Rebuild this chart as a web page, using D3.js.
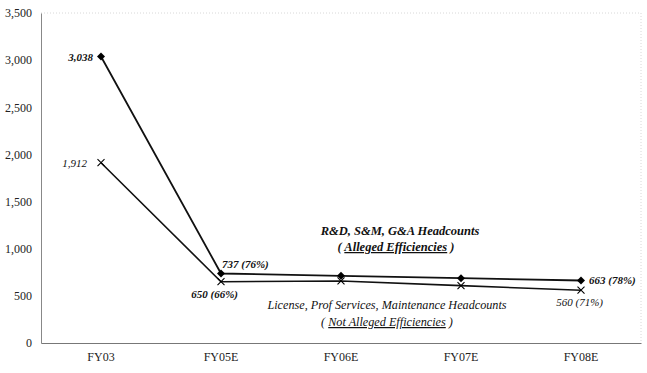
<!DOCTYPE html>
<html>
<head>
<meta charset="utf-8">
<script src="https://cdn.jsdelivr.net/npm/d3@7"></script>
<style>
  body { margin: 0; background: #fff; }
</style>
</head>
<body>
<script>
// chart data
var years = ["FY03", "FY05E", "FY06E", "FY07E", "FY08E"];
var alleged = [3038, 737, 712, 688, 663];
var notAlleged = [1912, 650, 658, 608, 560];
var yTicks = [0, 500, 1000, 1500, 2000, 2500, 3000, 3500];

var serif = "'Liberation Serif', 'Times New Roman', serif";
var width = 647, height = 373;
var margin = { top: 13, right: 6, bottom: 30, left: 41 };

var svg = d3.select("body").append("svg")
    .attr("width", width)
    .attr("height", height)
    .style("font-family", serif);

var x = d3.scaleBand().domain(years).range([margin.left, width - margin.right]);
var y = d3.scaleLinear().domain([0, 3500]).range([height - margin.bottom, margin.top]);

function cx(i) { return x(years[i]) + x.bandwidth() / 2; }

// faint plot border (top/right)
svg.append("path")
    .attr("d", "M" + margin.left + "," + margin.top + "H" + (width - margin.right) + "V" + (height - margin.bottom))
    .attr("fill", "none")
    .attr("stroke", "#d8d8d8")
    .attr("stroke-dasharray", "1,2");

// y axis
var yAxis = svg.append("g")
    .attr("transform", "translate(" + margin.left + ",0)")
    .call(d3.axisLeft(y).tickValues(yTicks).tickSize(0).tickPadding(9).tickFormat(d3.format(",")));
yAxis.attr("font-family", null);
yAxis.select(".domain").attr("stroke", "#888");
yAxis.selectAll("text").style("font-family", serif).style("font-size", "12px").attr("fill", "#222");

// x axis
var xAxis = svg.append("g")
    .attr("transform", "translate(0," + (height - margin.bottom) + ")")
    .call(d3.axisBottom(x).tickSize(0).tickPadding(9));
xAxis.attr("font-family", null);
xAxis.select(".domain").attr("stroke", "#777");
xAxis.selectAll("text").style("font-family", serif).style("font-size", "12px").attr("fill", "#222");

var line = d3.line()
    .x(function (d, i) { return cx(i); })
    .y(function (d) { return y(d); });

svg.append("path").datum(notAlleged)
    .attr("d", line).attr("fill", "none").attr("stroke", "#111").attr("stroke-width", 1.6);
svg.append("path").datum(alleged)
    .attr("d", line).attr("fill", "none").attr("stroke", "#111").attr("stroke-width", 1.8);

// markers
svg.selectAll(".dia").data(alleged).enter().append("path")
    .attr("class", "dia")
    .attr("d", "M0,-4L4,0L0,4L-4,0Z")
    .attr("transform", function (d, i) { return "translate(" + cx(i) + "," + y(d) + ")"; })
    .attr("fill", "#000");

svg.selectAll(".crs").data(notAlleged).enter().append("path")
    .attr("class", "crs")
    .attr("d", "M-3.5,-3.5L3.5,3.5M-3.5,3.5L3.5,-3.5")
    .attr("transform", function (d, i) { return "translate(" + cx(i) + "," + y(d) + ")"; })
    .attr("stroke", "#000").attr("stroke-width", 1.1).attr("fill", "none");

// value labels
var fmt = d3.format(",");
var labels = [
    { t: fmt(alleged[0]), x: cx(0) - 8, y: y(alleged[0]) + 4, a: "end", w: "bold" },
    { t: fmt(notAlleged[0]), x: cx(0) - 14, y: y(notAlleged[0]) + 4, a: "end", w: "normal" },
    { t: alleged[1] + " (76%)", x: cx(1) + 1, y: y(alleged[1]) - 6, a: "start", w: "bold" },
    { t: notAlleged[1] + " (66%)", x: cx(1) + 17, y: y(notAlleged[1]) + 16, a: "end", w: "bold" },
    { t: alleged[4] + " (78%)", x: cx(4) + 8, y: y(alleged[4]) + 4, a: "start", w: "bold" },
    { t: notAlleged[4] + " (71%)", x: cx(4) + 22, y: y(notAlleged[4]) + 16, a: "end", w: "normal" }
];
svg.selectAll(".vl").data(labels).enter().append("text")
    .attr("class", "vl")
    .attr("x", function (d) { return d.x; })
    .attr("y", function (d) { return d.y; })
    .attr("text-anchor", function (d) { return d.a; })
    .style("font-size", "11px")
    .style("font-style", "italic")
    .style("font-weight", function (d) { return d.w; })
    .attr("fill", "#111")
    .text(function (d) { return d.t; });

// series annotations
function note(xp, yp, text, bold, size) {
    return svg.append("text")
        .attr("x", xp).attr("y", yp)
        .attr("text-anchor", "middle")
        .style("font-size", size + "px")
        .style("font-style", "italic")
        .style("font-weight", bold ? "bold" : "normal")
        .attr("fill", "#111")
        .text(text);
}
note(400, 235, "R&D, S&M, G&A Headcounts", true, 12.5);
var n2 = note(396, 251, "( ", true, 12.5);
n2.append("tspan").style("text-decoration", "underline").text("Alleged Efficiencies");
n2.append("tspan").text(" )");

note(387, 309, "License, Prof Services, Maintenance Headcounts", false, 12.2);
var n4 = note(387, 326, "( ", false, 12.2);
n4.append("tspan").style("text-decoration", "underline").text("Not Alleged Efficiencies");
n4.append("tspan").text(" )");
</script>
</body>
</html>
